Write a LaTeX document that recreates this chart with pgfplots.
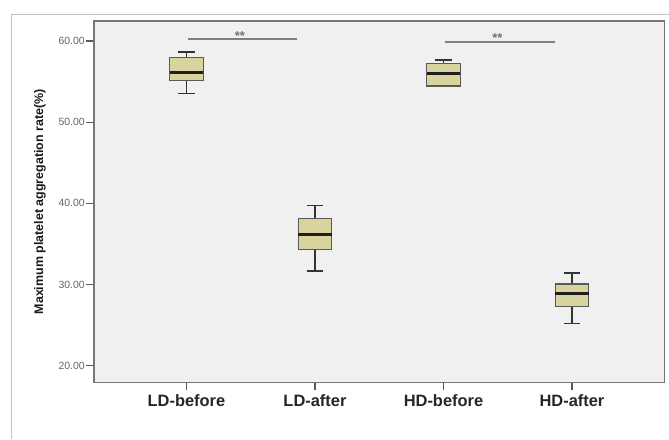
\documentclass[border=0pt]{standalone}
\usepackage{fontspec}
\setmainfont{Liberation Sans}
\usepackage{pgfplots}
\pgfplotsset{compat=1.18}
\usepgfplotslibrary{statistics}
\definecolor{boxfill}{RGB}{217,211,158}
\definecolor{plotbg}{RGB}{240,240,240}
\definecolor{framecol}{RGB}{118,118,118}
\definecolor{outerline}{RGB}{195,195,195}
\begin{document}
\begin{tikzpicture}[x=1bp,y=1bp]
\fill[white] (0,0) rectangle (669,439);
\draw[line width=1bp, outerline] (11.3,0) -- (11.3,424.3) -- (669,424.3);
\begin{axis}[
  at={(94bp,56.3bp)}, anchor=south west,
  scale only axis, width=571bp, height=361.4bp,
  xmin=-0.72, xmax=3.72, ymin=17.94, ymax=62.42,
  axis background/.style={fill=plotbg},
  axis line style={framecol, line width=1.6bp},
  xtick={0,1,2,3},
  xticklabels={LD-before,LD-after,HD-before,HD-after},
  ytick={20,30,40,50,60},
  yticklabels={20.00,30.00,40.00,50.00,60.00},
  tick align=outside, major tick length=8bp,
  tick style={black!65, line width=1.2bp},
  xtick pos=left, ytick pos=left,
  yticklabel style={font=\fontsize{10.5}{12}\selectfont, text=black!60, inner sep=1bp},
  xticklabel style={font=\fontsize{16.5}{18}\selectfont\bfseries, text=black!85, yshift=-1bp},
  ylabel={Maximum platelet aggregation rate(\%)},
  ylabel style={font=\fontsize{12.5}{14}\selectfont\bfseries, text=black!90, at={(axis description cs:-0.0946,0.5)}, anchor=center},
  boxplot/draw direction=y,
  boxplot/every median/.style={line width=2.8bp, draw=black!88},
  boxplot/every whisker/.style={line width=1.5bp, draw=black!80},
  boxplot/every box/.style={draw=black!65, fill=boxfill, line width=1.2bp},
  clip=false,
]
\addplot[boxplot prepared={draw position=0, lower whisker=53.55, lower quartile=55.1, median=56.1, upper quartile=57.95, upper whisker=58.65, box extend=0.26, whisker extend=0.13}] coordinates {};
\addplot[boxplot prepared={draw position=1, lower whisker=31.68, lower quartile=34.28, median=36.18, upper quartile=38.16, upper whisker=39.7, box extend=0.26, whisker extend=0.13}] coordinates {};
\addplot[boxplot prepared={draw position=2, lower whisker=54.45, lower quartile=54.45, median=55.95, upper quartile=57.2, upper whisker=57.65, box extend=0.26, whisker extend=0.13}] coordinates {};
\addplot[boxplot prepared={draw position=3, lower whisker=25.22, lower quartile=27.28, median=28.9, upper quartile=30.07, upper whisker=31.4, box extend=0.26, whisker extend=0.13}] coordinates {};
\addplot[black!50, line width=1.8bp] coordinates {(0.013,60.2) (0.864,60.2)};
\addplot[black!50, line width=1.8bp] coordinates {(2.015,59.88) (2.87,59.88)};
\node[font=\fontsize{13}{14}\selectfont\bfseries, text=black!55, anchor=base] at (axis cs:0.415,60.1) {**};
\node[font=\fontsize{13}{14}\selectfont\bfseries, text=black!55, anchor=base] at (axis cs:2.42,59.78) {**};
\end{axis}
\end{tikzpicture}
\end{document}
